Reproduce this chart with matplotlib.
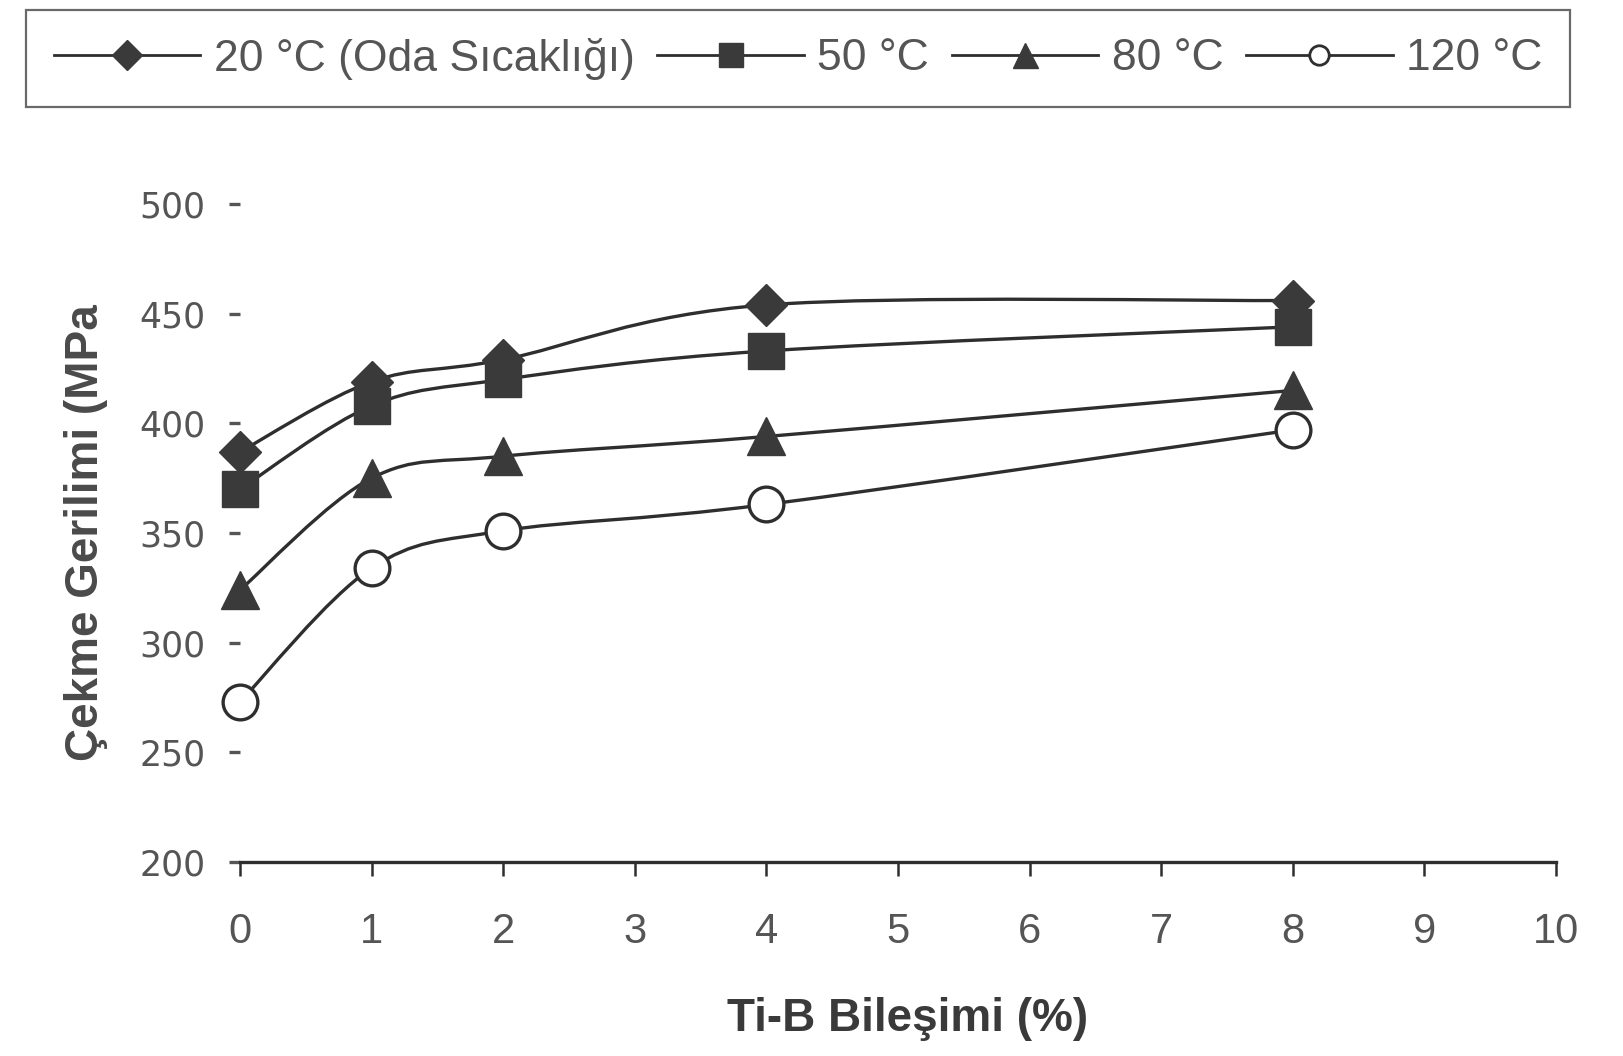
import matplotlib
matplotlib.use("Agg")
import matplotlib.pyplot as plt
from matplotlib.path import Path
from matplotlib.patches import PathPatch
from matplotlib.lines import Line2D
from matplotlib import font_manager
from matplotlib.font_manager import FontProperties

# ---------------- data ----------------
ti_b = [0, 1, 2, 4, 8]
s20 = [387, 419, 429, 454, 456]
s50 = [370, 408, 420, 433, 444]
s80 = [324, 375, 385, 394, 415]
s120 = [273, 334, 351, 363, 397]
labels = ["20 °C (Oda Sıcaklığı)", "50 °C", "80 °C", "120 °C"]
xticks = list(range(0, 11))
yticks = [200, 250, 300, 350, 400, 450, 500]
xlabel = "Ti-B Bileşimi (%)"
ylabel = "Çekme Gerilimi (MPa"


def has_font(name):
    try:
        font_manager.findfont(FontProperties(family=name), fallback_to_default=False)
        return True
    except Exception:
        return False


base = "Liberation Sans" if has_font("Liberation Sans") else "DejaVu Sans"

LINE = "#2e2e2e"
MARK = "#3a3a3a"
TEXT = "#555555"


def smooth_path(xs, ys):
    pts = list(zip(xs, ys))
    n = len(pts)
    verts = [pts[0]]
    codes = [Path.MOVETO]
    for i in range(n - 1):
        p0 = pts[i - 1] if i > 0 else pts[i]
        p1 = pts[i]
        p2 = pts[i + 1]
        p3 = pts[i + 2] if i + 2 < n else pts[i + 1]
        c1 = (p1[0] + (p2[0] - p0[0]) / 6.0, p1[1] + (p2[1] - p0[1]) / 6.0)
        c2 = (p2[0] - (p3[0] - p1[0]) / 6.0, p2[1] - (p3[1] - p1[1]) / 6.0)
        verts += [c1, c2, p2]
        codes += [Path.CURVE4] * 3
    return Path(verts, codes)


fig = plt.figure(figsize=(16.23, 10.56), dpi=100)
fig.patch.set_facecolor("white")
ax = fig.add_axes([240 / 1623, 1 - 862 / 1056, 1316 / 1623, 658 / 1056])
ax.set_facecolor("none")

series = [
    (s20, dict(marker="D", markersize=21, markerfacecolor=MARK, markeredgecolor=MARK)),
    (s50, dict(marker="s", markersize=26, markerfacecolor=MARK, markeredgecolor=MARK)),
    (s80, dict(marker="^", markersize=28, markerfacecolor=MARK, markeredgecolor=MARK)),
    (s120, dict(marker="o", markersize=25, markerfacecolor="white", markeredgecolor=LINE,
                markeredgewidth=2.4)),
]

for ys, mk in series:
    ax.add_patch(PathPatch(smooth_path(ti_b, ys), facecolor="none", edgecolor=LINE,
                           linewidth=2.4, clip_on=False, zorder=2))
    ax.plot(ti_b, ys, linestyle="none", clip_on=False, zorder=3, **mk)

ax.set_xlim(0, 10)
ax.set_ylim(200, 500)
ax.set_xticks(xticks)
ax.set_yticks(yticks)
ax.set_xticklabels([str(t) for t in xticks], family=base, fontsize=30, color=TEXT)
ax.set_yticklabels([str(t) for t in yticks], family="DejaVu Sans", fontsize=25, color=TEXT)

for s in ["top", "right", "left"]:
    ax.spines[s].set_visible(False)
ax.spines["bottom"].set_color(LINE)
ax.spines["bottom"].set_linewidth(2.4)
ax.tick_params(axis="x", direction="out", length=10, width=1.8, color=LINE, pad=26)
ax.tick_params(axis="y", direction="out", length=8, width=2.4, color="#555555", pad=17)

ax.set_xlabel(xlabel, family=base, fontsize=33, fontweight="bold", color="#3a3a3a")
ax.xaxis.set_label_coords(0.507, -0.205)
ax.set_ylabel(ylabel, family=base, fontsize=33, fontweight="bold", color="#4a4a4a")
ax.yaxis.set_label_coords(-0.100, 0.5)

# legend
handles = [
    Line2D([], [], color=LINE, lw=2.0, marker="D", markersize=15, markerfacecolor=MARK, markeredgecolor=MARK),
    Line2D([], [], color=LINE, lw=2.0, marker="s", markersize=17, markerfacecolor=MARK, markeredgecolor=MARK),
    Line2D([], [], color=LINE, lw=2.0, marker="^", markersize=18, markerfacecolor=MARK, markeredgecolor=MARK),
    Line2D([], [], color=LINE, lw=2.0, marker="o", markersize=14, markerfacecolor="white",
           markeredgecolor=LINE, markeredgewidth=2.0),
]
leg = fig.legend(handles, labels, loc="center",
                 bbox_to_anchor=(26 / 1623, 1 - 107 / 1056, 1544 / 1623, 97 / 1056),
                 mode="expand", ncol=4, frameon=True, fancybox=False,
                 handlelength=3.3, handletextpad=0.3, columnspacing=0.5,
                 borderpad=0.62, borderaxespad=0,
                 prop=FontProperties(family=base, size=32))
leg.get_frame().set_edgecolor("#444444")
leg.get_frame().set_linewidth(1.6)
for t in leg.get_texts():
    t.set_color(TEXT)

fig.savefig("out.png", dpi=100, facecolor="white")
